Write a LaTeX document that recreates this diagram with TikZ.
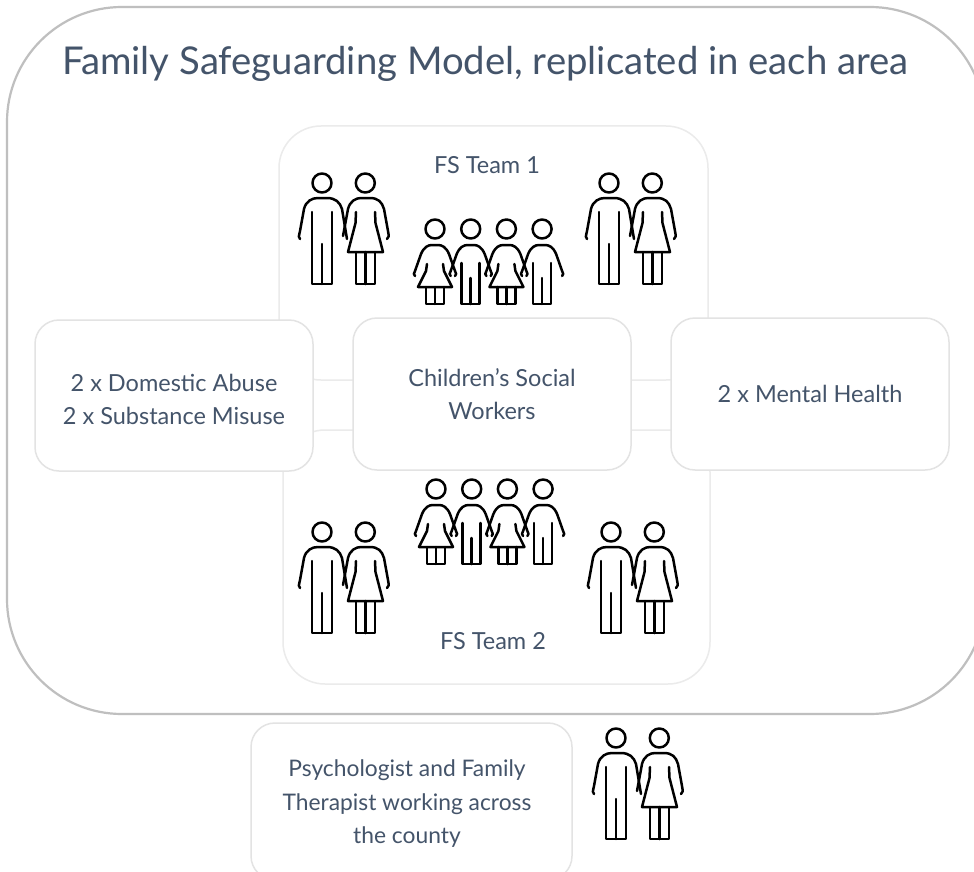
\documentclass[tikz,border=0pt]{standalone}
\usepackage{fontspec}
\setmainfont{Lato}
\definecolor{slate}{HTML}{44546A}
\tikzset{
  outerbox/.style={draw=black!25,line width=2.2pt,fill=white,rounded corners=115pt,inner sep=0pt},
  teambox/.style={draw=black!8,line width=1.5pt,rounded corners=42pt,inner sep=0pt},
  cardbox/.style={draw=black!11,line width=1.5pt,fill=white,rounded corners=24pt,inner sep=0pt,text=slate,font=\fontsize{23.5}{33.5}\selectfont,align=center},
  label/.style={text=slate,font=\fontsize{23.5}{33.5}\selectfont,align=center,inner sep=0pt},
  figline/.style={draw=black,line width=2.5pt,line cap=round,line join=round},
  couple/.pic={
    \draw[figline] (46,18) circle (9.5) (89.3,18) circle (9.5);
    \draw[figline] (24,74) .. controls (22,73) and (23,71) .. (24,66) -- (28,44) .. controls (30,36) and (36,33) .. (42,33) -- (51,33) .. controls (59,33) and (64,37) .. (66,44) -- (71,74);
    \draw[figline] (36,47) -- (36,119) -- (56,119) -- (56,47) (46,79) -- (46,119);
    \draw[figline] (67,71) -- (72,44) .. controls (74,36) and (80,33) .. (85,33) -- (94,33) .. controls (102,33) and (106,37) .. (108,44) -- (112,66) .. controls (113,71) and (113,73) .. (111,74);
    \draw[figline] (80,47) -- (79.5,58) -- (72,87) -- (107,87) -- (99.5,58) -- (99,47);
    \draw[figline] (80,87) -- (80,119) -- (99,119) -- (99,87) (89.5,87) -- (89.5,119);
  },
  kidarms/.pic={
    \draw[figline] (0,0) circle (9.5);
    \draw[figline] (-20,47) .. controls (-22,46) and (-21,44) .. (-20,42) -- (-14,25) .. controls (-11,18) and (-7,16) .. (-3,16) -- (3,16) .. controls (7,16) and (11,18) .. (14,25) -- (20,42) .. controls (21,44) and (22,46) .. (20,47);
  },
  girl/.pic={
    \pic {kidarms};
    \draw[figline] (-8,35) -- (-9,42) -- (-17,58) -- (17,58) -- (9,42) -- (8,35);
    \draw[figline] (-9,58) -- (-9,75) -- (9,75) -- (9,58) (0,58) -- (0,75);
  },
  boy/.pic={
    \pic {kidarms};
    \draw[figline] (-9,34) -- (-9,75) -- (9,75) -- (9,34) (0,49) -- (0,75);
  },
  kids/.pic={
    \pic at (0,0) {girl};
    \pic at (35.7,0) {boy};
    \pic at (71.4,0) {girl};
    \pic at (107.1,0) {boy};
  }
}
\begin{document}
\begin{tikzpicture}[x=1pt,y=-1pt]
\useasboundingbox (0,0) rectangle (974,872);
\clip (0,0) rectangle (974,872);
\fill[white] (0,0) rectangle (974,872);
\node[outerbox,minimum width=978pt,minimum height=707pt] (outer) at (496,360.5) {};
\node[inner sep=0pt,anchor=west,text=slate,font=\fontsize{38.3}{44}\selectfont] (title) at (62,64) {Family Safeguarding Model, replicated in each area};
\node[teambox,minimum width=429pt,minimum height=254pt] (team1) at (493.5,253) {};
\node[teambox,minimum width=427pt,minimum height=254pt] (team2) at (496.5,557) {};
\node[label] (t1label) at (487,165) {FS Team 1};
\node[label] (t2label) at (493,641) {FS Team 2};
\node[cardbox,minimum width=278pt,minimum height=151pt] (left) at (174,395.5) {};
\node[label] (lefttext) at (174,399.5) {2 x Domestic Abuse\\2 x Substance Misuse};
\node[cardbox,minimum width=278pt,minimum height=152pt] (center) at (492,394) {Children’s Social\\Workers};
\node[cardbox,minimum width=278pt,minimum height=152pt] (right) at (810,394) {2 x Mental Health};
\node[cardbox,minimum width=321pt,minimum height=157pt] (bottom) at (411.5,801.5) {};
\node[label,font=\fontsize{22.8}{33.5}\selectfont] (blabel) at (407,804) {Psychologist and Family\\Therapist working across\\the county};
\pic at (276,165) {couple};
\pic at (563,165) {couple};
\pic at (276,514) {couple};
\pic at (565,514) {couple};
\pic at (570,720) {couple};
\pic at (435,229) {kids};
\pic at (436,489) {kids};
\end{tikzpicture}
\end{document}
